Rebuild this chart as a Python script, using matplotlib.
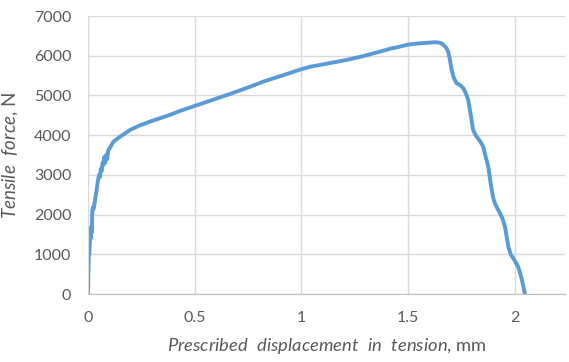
import matplotlib.pyplot as plt

plt.rcParams['font.family'] = 'Lato'
plt.rcParams['mathtext.fontset'] = 'custom'
plt.rcParams['mathtext.rm'] = 'Lato'
plt.rcParams['mathtext.it'] = 'Lato:italic'

# Displacement (mm) and force (N)
disp = [0.0, 0.002, 0.004, 0.006, 0.008, 0.010, 0.012, 0.016, 0.018, 0.020,
        0.024, 0.027, 0.030, 0.034, 0.040, 0.047, 0.052, 0.056, 0.060, 0.064,
        0.068, 0.072, 0.076, 0.080, 0.085, 0.090, 0.095, 0.105, 0.119, 0.135,
        0.150, 0.175, 0.197, 0.24, 0.29, 0.34, 0.384, 0.431, 0.47, 0.5,
        0.58, 0.666, 0.74, 0.822, 0.91, 1.0, 1.04, 1.088, 1.15, 1.213,
        1.29, 1.369, 1.42, 1.463, 1.5, 1.55, 1.603, 1.63, 1.655, 1.666,
        1.68, 1.689, 1.697, 1.705, 1.715, 1.728, 1.745, 1.760, 1.772, 1.783,
        1.795, 1.806, 1.815, 1.822, 1.838, 1.853, 1.865, 1.877, 1.885, 1.893,
        1.900, 1.908, 1.920, 1.932, 1.945, 1.955, 1.963, 1.971, 1.982, 1.994,
        2.005, 2.017, 2.025, 2.033, 2.041, 2.049]
force = [0, 600, 1050, 1000, 1250, 1500, 1380, 1700, 1550, 2100,
         2200, 2150, 2250, 2400, 2600, 2870, 3000, 2950, 3150, 3100,
         3300, 3250, 3450, 3300, 3500, 3400, 3620, 3700, 3835, 3900,
         3960, 4050, 4130, 4240, 4340, 4430, 4510, 4610, 4680, 4735,
         4880, 5038, 5180, 5348, 5500, 5660, 5720, 5768, 5830, 5894,
         5990, 6103, 6180, 6230, 6280, 6310, 6330, 6340, 6320, 6272,
         6200, 6103, 5900, 5642, 5450, 5307, 5260, 5181, 5050, 4887,
         4500, 4131, 4030, 3963, 3850, 3711, 3450, 3207, 2900, 2620,
         2420, 2285, 2150, 2033, 1880, 1696, 1450, 1192, 1000, 899,
         800, 688, 550, 395, 200, 0]

xticks = [0, 0.5, 1, 1.5, 2]
xticklabels = ['0', '0.5', '1', '1.5', '2']
yticks = [0, 1000, 2000, 3000, 4000, 5000, 6000, 7000]

fig = plt.figure(figsize=(5.69, 3.62), dpi=100)
ax = fig.add_axes([0.1547, 0.1878, 0.838, 0.768])

ax.plot(disp, force, color='#5B9BD5', linewidth=2.8,
        solid_joinstyle='round', solid_capstyle='round')

ax.set_xlim(0, 2.236)
ax.set_ylim(0, 7000)
ax.set_xticks(xticks)
ax.set_xticklabels(xticklabels)
ax.set_yticks(yticks)
ax.grid(True, color='#D9D9D9', linewidth=1.0)
ax.set_axisbelow(True)
for side in ['top', 'right']:
    ax.spines[side].set_visible(False)
ax.spines['left'].set_color('#D9D9D9')
ax.spines['bottom'].set_color('#BFBFBF')
ax.tick_params(length=0, labelsize=11.5, labelcolor='#595959')
ax.tick_params(axis='x', pad=12)
ax.tick_params(axis='y', pad=12)

ax.set_xlabel(r'$\it{Prescribed\ \ displacement\ \ in\ \ tension}$, mm',
              fontsize=13.2, color='#595959', labelpad=8)
ax.set_ylabel(r'$\it{Tensile\ \ force}$, N', fontsize=13.5, color='#595959', labelpad=9)

fig.savefig('out.png', dpi=100)
